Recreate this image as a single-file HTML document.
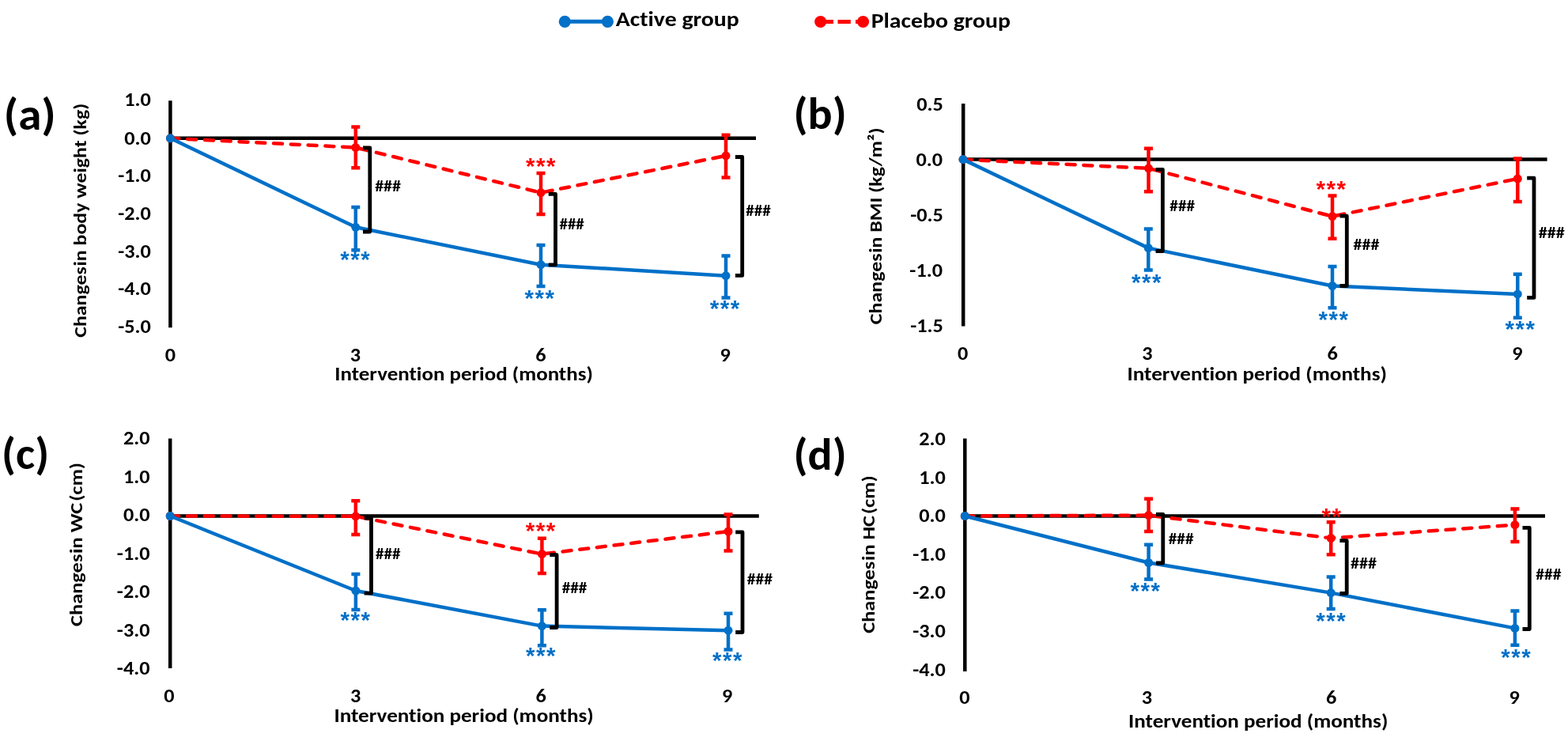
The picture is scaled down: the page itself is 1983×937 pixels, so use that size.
<!DOCTYPE html>
<html><head><meta charset="utf-8"><title>Changes in anthropometric measures</title>
<style>
html,body{margin:0;padding:0;background:#fff;}
body{width:1983px;height:937px;overflow:hidden;}
svg{display:block;}
text{font-family:Carlito, 'Liberation Sans', sans-serif;font-weight:bold;fill:#000;font-variant-ligatures:none;}
text.n{font-weight:normal;}
text.st{font-family:'Liberation Sans', Arimo, sans-serif;}
text.b{fill:#0070C8;}
text.r{fill:#FF0000;}
</style></head><body>
<svg width="1983" height="937" viewBox="0 0 1983 937">
<rect width="1983" height="937" fill="#fff"/>
<line x1="714.3" y1="27.3" x2="768.4" y2="27.3" stroke="#0070C8" stroke-width="5"/>
<circle cx="714.3" cy="27.3" r="7.6" fill="#0070C8"/><circle cx="768.4" cy="27.3" r="7.6" fill="#0070C8"/>
<text x="778.74" y="33.2" font-size="26.2" textLength="155.97" lengthAdjust="spacingAndGlyphs">Active group</text>
<path d="M1037.7,27.5H1054M1059.5,27.5H1075.8M1082,27.5H1091.5" stroke="#FF0000" stroke-width="5"/>
<circle cx="1037.7" cy="27.5" r="7.6" fill="#FF0000"/><circle cx="1091.5" cy="27.5" r="7.6" fill="#FF0000"/>
<text x="1101.73" y="35.2" font-size="26.6" textLength="176.18" lengthAdjust="spacingAndGlyphs">Placebo group</text>
<g><text x="4.79" y="163.7" font-size="56" textLength="66.02" lengthAdjust="spacingAndGlyphs">(a)</text><text x="157.23" y="133.89" font-size="24.3" textLength="33.61" lengthAdjust="spacingAndGlyphs">1.0</text><text x="157.23" y="182.79" font-size="24.3" textLength="33.61" lengthAdjust="spacingAndGlyphs">0.0</text><text x="149.19" y="230.41" font-size="24.3" textLength="41.65" lengthAdjust="spacingAndGlyphs">-1.0</text><text x="149.19" y="278.03" font-size="24.3" textLength="41.65" lengthAdjust="spacingAndGlyphs">-2.0</text><text x="149.19" y="325.65" font-size="24.3" textLength="41.65" lengthAdjust="spacingAndGlyphs">-3.0</text><text x="149.19" y="373.27" font-size="24.3" textLength="41.65" lengthAdjust="spacingAndGlyphs">-4.0</text><text x="149.19" y="420.89" font-size="24.3" textLength="41.65" lengthAdjust="spacingAndGlyphs">-5.0</text><text x="208.65" y="457.09" font-size="24.3" textLength="13.3" lengthAdjust="spacingAndGlyphs">0</text><text x="442.73" y="457.09" font-size="24.3" textLength="13.3" lengthAdjust="spacingAndGlyphs">3</text><text x="677.21" y="457.09" font-size="24.3" textLength="13.3" lengthAdjust="spacingAndGlyphs">6</text><text x="910.42" y="457.09" font-size="24.3" textLength="13.3" lengthAdjust="spacingAndGlyphs">9</text><text x="423.35" y="480.6" font-size="24.8" textLength="326.49" lengthAdjust="spacingAndGlyphs">Intervention period (months)</text><text transform="translate(108.7,426.73) rotate(-90)" font-size="22.6" textLength="296" lengthAdjust="spacingAndGlyphs">Changes<tspan dx="-4.5"> </tspan>in body weight (kg)</text><line x1="215.4" y1="127.3" x2="215.4" y2="414.2" stroke="#000" stroke-width="4.5"/><line x1="215.4" y1="174.8" x2="956" y2="174.8" stroke="#000" stroke-width="4.5"/><polyline points="215.4,174.8 449.8,186.5 684,243.6 918,196.9" fill="none" stroke="#FF0000" stroke-width="4.5" stroke-dasharray="11 10.8" stroke-linecap="round"/><circle cx="215.4" cy="174.8" r="5.5" fill="#FF0000"/><path d="M449.8,160.5V212.2M444.3,160.5H455.3M444.3,212.2H455.3" stroke="#FF0000" stroke-width="4.5" fill="none"/><circle cx="449.8" cy="186.5" r="5.5" fill="#FF0000"/><path d="M684,218.9V271M678.5,218.9H689.5M678.5,271H689.5" stroke="#FF0000" stroke-width="4.5" fill="none"/><circle cx="684" cy="243.6" r="5.5" fill="#FF0000"/><path d="M918,170.7V224.5M912.5,170.7H923.5M912.5,224.5H923.5" stroke="#FF0000" stroke-width="4.5" fill="none"/><circle cx="918" cy="196.9" r="5.5" fill="#FF0000"/><polyline points="215.4,174.8 449.8,287.3 684,334.7 918,348.7" fill="none" stroke="#0070C8" stroke-width="4.5" stroke-linejoin="round"/><circle cx="215.4" cy="174.8" r="5.5" fill="#0070C8"/><path d="M449.8,262V316.3M444.3,262H455.3M444.3,316.3H455.3" stroke="#0070C8" stroke-width="4.5" fill="none"/><circle cx="449.8" cy="287.3" r="5.5" fill="#0070C8"/><path d="M684,310V362M678.5,310H689.5M678.5,362H689.5" stroke="#0070C8" stroke-width="4.5" fill="none"/><circle cx="684" cy="334.7" r="5.5" fill="#0070C8"/><path d="M918,323.5V376.5M912.5,323.5H923.5M912.5,376.5H923.5" stroke="#0070C8" stroke-width="4.5" fill="none"/><circle cx="918" cy="348.7" r="5.5" fill="#0070C8"/><path d="M459,187 H467.8 V293 H459" fill="none" stroke="#000" stroke-width="4.8" stroke-linejoin="round"/><path d="M693.7,245.3 H702.5 V334.8 H693.7" fill="none" stroke="#000" stroke-width="4.8" stroke-linejoin="round"/><path d="M929.9,198.5 H938.7 V348.4 H929.9" fill="none" stroke="#000" stroke-width="4.8" stroke-linejoin="round"/><text x="430.13 443.13 456.13" y="337.56" font-size="29.5" class="st b">***</text><text x="663.43 676.43 689.43" y="387.01" font-size="29.5" class="st b">***</text><text x="897.63 910.63 923.63" y="399.81" font-size="29.5" class="st b">***</text><text x="665.03 678.03 691.03" y="219.81" font-size="29.5" class="st r">***</text><text x="474.15" y="242.17" font-size="21" textLength="32.95" lengthAdjust="spacingAndGlyphs">###</text><text x="707.47" y="290.17" font-size="21" textLength="31.34" lengthAdjust="spacingAndGlyphs">###</text><text x="943.26" y="273.47" font-size="21" textLength="31.54" lengthAdjust="spacingAndGlyphs">###</text></g>
<g><text x="1003.56" y="163" font-size="56" textLength="67.17" lengthAdjust="spacingAndGlyphs">(b)</text><text x="1159.22" y="139.74" font-size="24.3" textLength="33.61" lengthAdjust="spacingAndGlyphs">0.5</text><text x="1158.43" y="209.69" font-size="24.3" textLength="33.61" lengthAdjust="spacingAndGlyphs">0.0</text><text x="1151.19" y="279.64" font-size="24.3" textLength="41.65" lengthAdjust="spacingAndGlyphs">-0.5</text><text x="1150.39" y="349.59" font-size="24.3" textLength="41.65" lengthAdjust="spacingAndGlyphs">-1.0</text><text x="1151.19" y="419.54" font-size="24.3" textLength="41.65" lengthAdjust="spacingAndGlyphs">-1.5</text><text x="1210.95" y="455.49" font-size="24.3" textLength="13.3" lengthAdjust="spacingAndGlyphs">0</text><text x="1444.23" y="455.49" font-size="24.3" textLength="13.3" lengthAdjust="spacingAndGlyphs">3</text><text x="1678.41" y="455.49" font-size="24.3" textLength="13.3" lengthAdjust="spacingAndGlyphs">6</text><text x="1912.32" y="455.49" font-size="24.3" textLength="13.3" lengthAdjust="spacingAndGlyphs">9</text><text x="1425.54" y="481" font-size="24.8" textLength="328.41" lengthAdjust="spacingAndGlyphs">Intervention period (months)</text><text transform="translate(1115,410.13) rotate(-90)" font-size="22.6" textLength="248.81" lengthAdjust="spacingAndGlyphs">Changes<tspan dx="-4.5"> </tspan>in BMI (kg/m²)</text><line x1="1218.2" y1="131" x2="1218.2" y2="412.5" stroke="#000" stroke-width="4.5"/><line x1="1218.2" y1="201.6" x2="1956.6" y2="201.6" stroke="#000" stroke-width="4.5"/><polyline points="1218,201.6 1452.5,212.8 1685,273.6 1919.3,226" fill="none" stroke="#FF0000" stroke-width="4.5" stroke-dasharray="11 10.8" stroke-linecap="round"/><circle cx="1218" cy="201.6" r="5.5" fill="#FF0000"/><path d="M1452.5,187.7V242.2M1447,187.7H1458M1447,242.2H1458" stroke="#FF0000" stroke-width="4.5" fill="none"/><circle cx="1452.5" cy="212.8" r="5.5" fill="#FF0000"/><path d="M1685,247.5V301.7M1679.5,247.5H1690.5M1679.5,301.7H1690.5" stroke="#FF0000" stroke-width="4.5" fill="none"/><circle cx="1685" cy="273.6" r="5.5" fill="#FF0000"/><path d="M1919.3,200.4V255M1913.8,200.4H1924.8M1913.8,255H1924.8" stroke="#FF0000" stroke-width="4.5" fill="none"/><circle cx="1919.3" cy="226" r="5.5" fill="#FF0000"/><polyline points="1218,201.6 1452.3,313.6 1685,361.5 1919.3,371.9" fill="none" stroke="#0070C8" stroke-width="4.5" stroke-linejoin="round"/><circle cx="1218" cy="201.6" r="5.5" fill="#0070C8"/><path d="M1452.3,289.4V341.5M1446.8,289.4H1457.8M1446.8,341.5H1457.8" stroke="#0070C8" stroke-width="4.5" fill="none"/><circle cx="1452.3" cy="313.6" r="5.5" fill="#0070C8"/><path d="M1685,337V389.3M1679.5,337H1690.5M1679.5,389.3H1690.5" stroke="#0070C8" stroke-width="4.5" fill="none"/><circle cx="1685" cy="361.5" r="5.5" fill="#0070C8"/><path d="M1919.3,346.8V401.7M1913.8,346.8H1924.8M1913.8,401.7H1924.8" stroke="#0070C8" stroke-width="4.5" fill="none"/><circle cx="1919.3" cy="371.9" r="5.5" fill="#0070C8"/><path d="M1461.6,214.3 H1470.4 V317.5 H1461.6" fill="none" stroke="#000" stroke-width="4.8" stroke-linejoin="round"/><path d="M1694.5,273.2 H1703.3 V361.5 H1694.5" fill="none" stroke="#000" stroke-width="4.8" stroke-linejoin="round"/><path d="M1931.2,225.1 H1940 V376.4 H1931.2" fill="none" stroke="#000" stroke-width="4.8" stroke-linejoin="round"/><text x="1430.93 1443.93 1456.93" y="366.81" font-size="29.5" class="st b">***</text><text x="1667.43 1680.43 1693.43" y="413.81" font-size="29.5" class="st b">***</text><text x="1903.53 1916.53 1929.53" y="425.66" font-size="29.5" class="st b">***</text><text x="1664.43 1677.43 1690.43" y="249.06" font-size="29.5" class="st r">***</text><text x="1479.36" y="266.97" font-size="21" textLength="31.64" lengthAdjust="spacingAndGlyphs">###</text><text x="1711.55" y="315.97" font-size="21" textLength="32.85" lengthAdjust="spacingAndGlyphs">###</text><text x="1945.75" y="300.77" font-size="21" textLength="33.06" lengthAdjust="spacingAndGlyphs">###</text></g>
<g><text x="2.08" y="592.6" font-size="56" textLength="60.04" lengthAdjust="spacingAndGlyphs">(c)</text><text x="155.93" y="562.49" font-size="24.3" textLength="33.61" lengthAdjust="spacingAndGlyphs">2.0</text><text x="155.93" y="610.94" font-size="24.3" textLength="33.61" lengthAdjust="spacingAndGlyphs">1.0</text><text x="155.93" y="659.39" font-size="24.3" textLength="33.61" lengthAdjust="spacingAndGlyphs">0.0</text><text x="147.89" y="707.84" font-size="24.3" textLength="41.65" lengthAdjust="spacingAndGlyphs">-1.0</text><text x="147.89" y="756.29" font-size="24.3" textLength="41.65" lengthAdjust="spacingAndGlyphs">-2.0</text><text x="147.89" y="804.74" font-size="24.3" textLength="41.65" lengthAdjust="spacingAndGlyphs">-3.0</text><text x="147.89" y="853.19" font-size="24.3" textLength="41.65" lengthAdjust="spacingAndGlyphs">-4.0</text><text x="207.15" y="887.89" font-size="24.3" textLength="13.3" lengthAdjust="spacingAndGlyphs">0</text><text x="443.13" y="887.89" font-size="24.3" textLength="13.3" lengthAdjust="spacingAndGlyphs">3</text><text x="677.61" y="887.89" font-size="24.3" textLength="13.3" lengthAdjust="spacingAndGlyphs">6</text><text x="913.12" y="887.89" font-size="24.3" textLength="13.3" lengthAdjust="spacingAndGlyphs">9</text><text x="422.44" y="913.3" font-size="24.8" textLength="328.31" lengthAdjust="spacingAndGlyphs">Intervention period (months)</text><text transform="translate(103.5,791.94) rotate(-90)" font-size="22.6" textLength="207.05" lengthAdjust="spacingAndGlyphs">Changes<tspan dx="-4.5"> </tspan>in WC<tspan dx="-3.5"> </tspan>(cm)</text><line x1="215.2" y1="554.5" x2="215.2" y2="845" stroke="#000" stroke-width="4.5"/><line x1="215.2" y1="652.5" x2="959.8" y2="652.5" stroke="#000" stroke-width="4.5"/><polyline points="215.2,652.5 449.8,652.8 685.4,700.6 921,672" fill="none" stroke="#FF0000" stroke-width="4.5" stroke-dasharray="11 10.8" stroke-linecap="round"/><circle cx="215.2" cy="652.5" r="5.5" fill="#FF0000"/><path d="M449.8,633.2V676M444.3,633.2H455.3M444.3,676H455.3" stroke="#FF0000" stroke-width="4.5" fill="none"/><circle cx="449.8" cy="652.8" r="5.5" fill="#FF0000"/><path d="M685.4,680.7V724.9M679.9,680.7H690.9M679.9,724.9H690.9" stroke="#FF0000" stroke-width="4.5" fill="none"/><circle cx="685.4" cy="700.6" r="5.5" fill="#FF0000"/><path d="M921,650.4V696.4M915.5,650.4H926.5M915.5,696.4H926.5" stroke="#FF0000" stroke-width="4.5" fill="none"/><circle cx="921" cy="672" r="5.5" fill="#FF0000"/><polyline points="215.2,652.5 449.9,747 685.4,791.6 921,797.2" fill="none" stroke="#0070C8" stroke-width="4.5" stroke-linejoin="round"/><circle cx="215.2" cy="652.5" r="5.5" fill="#0070C8"/><path d="M449.9,726V771.1M444.4,726H455.4M444.4,771.1H455.4" stroke="#0070C8" stroke-width="4.5" fill="none"/><circle cx="449.9" cy="747" r="5.5" fill="#0070C8"/><path d="M685.4,771.2V816.3M679.9,771.2H690.9M679.9,816.3H690.9" stroke="#0070C8" stroke-width="4.5" fill="none"/><circle cx="685.4" cy="791.6" r="5.5" fill="#0070C8"/><path d="M921,775.7V821.4M915.5,775.7H926.5M915.5,821.4H926.5" stroke="#0070C8" stroke-width="4.5" fill="none"/><circle cx="921" cy="797.2" r="5.5" fill="#0070C8"/><path d="M460.7,655 H469.5 V750.2 H460.7" fill="none" stroke="#000" stroke-width="4.8" stroke-linejoin="round"/><path d="M695.3,701.7 H704.1 V793.5 H695.3" fill="none" stroke="#000" stroke-width="4.8" stroke-linejoin="round"/><path d="M930.2,672.8 H939 V799.5 H930.2" fill="none" stroke="#000" stroke-width="4.8" stroke-linejoin="round"/><text x="430.43 443.43 456.43" y="793.56" font-size="29.5" class="st b">***</text><text x="664.93 677.93 690.93" y="839.16" font-size="29.5" class="st b">***</text><text x="900.93 913.93 926.93" y="845.16" font-size="29.5" class="st b">***</text><text x="664.83 677.83 690.83" y="680.81" font-size="29.5" class="st r">***</text><text x="475.06" y="706.77" font-size="21" textLength="31.44" lengthAdjust="spacingAndGlyphs">###</text><text x="710.66" y="750.37" font-size="21" textLength="31.74" lengthAdjust="spacingAndGlyphs">###</text><text x="944.76" y="738.57" font-size="21" textLength="32.35" lengthAdjust="spacingAndGlyphs">###</text></g>
<g><text x="1003.56" y="594.4" font-size="56" textLength="67.17" lengthAdjust="spacingAndGlyphs">(d)</text><text x="1162.23" y="562.89" font-size="24.3" textLength="33.61" lengthAdjust="spacingAndGlyphs">2.0</text><text x="1162.23" y="611.54" font-size="24.3" textLength="33.61" lengthAdjust="spacingAndGlyphs">1.0</text><text x="1162.23" y="660.19" font-size="24.3" textLength="33.61" lengthAdjust="spacingAndGlyphs">0.0</text><text x="1154.19" y="708.84" font-size="24.3" textLength="41.65" lengthAdjust="spacingAndGlyphs">-1.0</text><text x="1154.19" y="757.49" font-size="24.3" textLength="41.65" lengthAdjust="spacingAndGlyphs">-2.0</text><text x="1154.19" y="806.14" font-size="24.3" textLength="41.65" lengthAdjust="spacingAndGlyphs">-3.0</text><text x="1154.19" y="854.79" font-size="24.3" textLength="41.65" lengthAdjust="spacingAndGlyphs">-4.0</text><text x="1213.25" y="889.69" font-size="24.3" textLength="13.3" lengthAdjust="spacingAndGlyphs">0</text><text x="1443.83" y="889.69" font-size="24.3" textLength="13.3" lengthAdjust="spacingAndGlyphs">3</text><text x="1676.91" y="889.69" font-size="24.3" textLength="13.3" lengthAdjust="spacingAndGlyphs">6</text><text x="1908.52" y="889.69" font-size="24.3" textLength="13.3" lengthAdjust="spacingAndGlyphs">9</text><text x="1427.04" y="920.2" font-size="24.8" textLength="328.31" lengthAdjust="spacingAndGlyphs">Intervention period (months)</text><text transform="translate(1106.2,800.74) rotate(-90)" font-size="22.6" textLength="199.44" lengthAdjust="spacingAndGlyphs">Changes<tspan dx="-4.5"> </tspan>in HC<tspan dx="-3.5"> </tspan>(cm)</text><line x1="1220.3" y1="554.5" x2="1220.3" y2="849" stroke="#000" stroke-width="4.5"/><line x1="1220.3" y1="652.5" x2="1954" y2="652.5" stroke="#000" stroke-width="4.5"/><polyline points="1220.3,652.5 1452.6,651.6 1683.2,680.5 1915.9,663.7" fill="none" stroke="#FF0000" stroke-width="4.5" stroke-dasharray="11 10.8" stroke-linecap="round"/><circle cx="1220.3" cy="652.5" r="5.5" fill="#FF0000"/><path d="M1452.6,630.8V672.1M1447.1,630.8H1458.1M1447.1,672.1H1458.1" stroke="#FF0000" stroke-width="4.5" fill="none"/><circle cx="1452.6" cy="651.6" r="5.5" fill="#FF0000"/><path d="M1683.2,660.2V701.3M1677.7,660.2H1688.7M1677.7,701.3H1688.7" stroke="#FF0000" stroke-width="4.5" fill="none"/><circle cx="1683.2" cy="680.5" r="5.5" fill="#FF0000"/><path d="M1915.9,643.4V684.9M1910.4,643.4H1921.4M1910.4,684.9H1921.4" stroke="#FF0000" stroke-width="4.5" fill="none"/><circle cx="1915.9" cy="663.7" r="5.5" fill="#FF0000"/><polyline points="1220.3,652.5 1452.6,711.5 1683.2,749.6 1915.9,794.4" fill="none" stroke="#0070C8" stroke-width="4.5" stroke-linejoin="round"/><circle cx="1220.3" cy="652.5" r="5.5" fill="#0070C8"/><path d="M1452.6,688.7V732.4M1447.1,688.7H1458.1M1447.1,732.4H1458.1" stroke="#0070C8" stroke-width="4.5" fill="none"/><circle cx="1452.6" cy="711.5" r="5.5" fill="#0070C8"/><path d="M1683.2,729.4V770M1677.7,729.4H1688.7M1677.7,770H1688.7" stroke="#0070C8" stroke-width="4.5" fill="none"/><circle cx="1683.2" cy="749.6" r="5.5" fill="#0070C8"/><path d="M1915.9,772.5V815.8M1910.4,772.5H1921.4M1910.4,815.8H1921.4" stroke="#0070C8" stroke-width="4.5" fill="none"/><circle cx="1915.9" cy="794.4" r="5.5" fill="#0070C8"/><path d="M1462,650.5 H1470.8 V712 H1462" fill="none" stroke="#000" stroke-width="4.8" stroke-linejoin="round"/><path d="M1694.4,683.7 H1703.2 V750.5 H1694.4" fill="none" stroke="#000" stroke-width="4.8" stroke-linejoin="round"/><path d="M1925.5,667.3 H1934.3 V795.5 H1925.5" fill="none" stroke="#000" stroke-width="4.8" stroke-linejoin="round"/><text x="1429.43 1442.43 1455.43" y="756.76" font-size="29.5" class="st b">***</text><text x="1664.13 1677.13 1690.13" y="795.06" font-size="29.5" class="st b">***</text><text x="1898.23 1911.23 1924.23" y="841.41" font-size="29.5" class="st b">***</text><text x="1671.53 1684.53" y="663.11" font-size="29.5" class="st r">**</text><text x="1477.76" y="688.17" font-size="21" textLength="31.84" lengthAdjust="spacingAndGlyphs">###</text><text x="1707.95" y="718.77" font-size="21" textLength="32.95" lengthAdjust="spacingAndGlyphs">###</text><text x="1942.26" y="733.07" font-size="21" textLength="32.25" lengthAdjust="spacingAndGlyphs">###</text></g>
</svg>
</body></html>
